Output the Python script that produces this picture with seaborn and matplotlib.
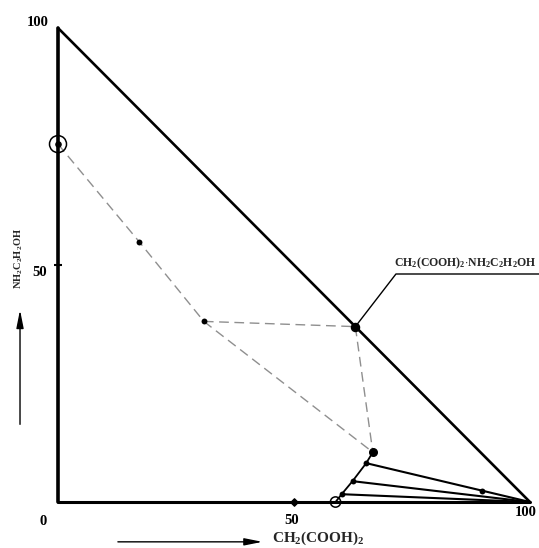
import numpy as np
import pandas as pd
import matplotlib
matplotlib.use("Agg")
import matplotlib.pyplot as plt
import seaborn as sns

# ---------------- data (mass %) ----------------
# triangle frame: pure NH2C2H2OH (0,100), origin, pure CH2(COOH)2 (100,0)
frame_x = [0, 0, 100, 0]
frame_y = [100, 0, 0, 100]

# branch 1 (dashed): from ethanolamine axis to invariant point
branch1_x = [0.0, 17.2, 30.9]
branch1_y = [75.5, 54.9, 38.1]

# compound CH2(COOH)2·NH2C2H2OH on the hypotenuse
compound_x = 63.0
compound_y = 37.0

# second invariant point (upper end of malonic-acid curve)
inv2_x = 66.7
inv2_y = 10.5

# malonic-acid solubility curve (solid)
acid_x = [66.7, 65.3, 62.4, 60.1, 58.8]
acid_y = [10.5, 8.2, 4.4, 1.65, 0.0]

# tie lines to pure CH2(COOH)2
tie_from_x = [65.3, 62.4, 60.1]
tie_from_y = [8.2, 4.4, 1.65]
tie_to = (100.0, 0.0)
# extra point on the upper tie line
tie_pt_x = 89.8

# ticks
tick_vals = [0, 50, 100]

# ---------------- figure ----------------
sns.set_theme(style="white")
plt.rcParams["font.family"] = ["Liberation Serif", "DejaVu Serif"]
plt.rcParams["mathtext.fontset"] = "custom"
plt.rcParams["mathtext.rm"] = "Liberation Serif"
plt.rcParams["mathtext.bf"] = "Liberation Serif:bold"
plt.rcParams["mathtext.it"] = "Liberation Serif:italic"

fig = plt.figure(figsize=(5.39, 5.48), dpi=100)
ax = fig.add_axes([0, 0, 1, 1])
ax.set_xlim(-12.29, 101.91)
ax.set_ylim(-9.70, 105.9)
ax.axis("off")

def seg(xs, ys, **kw):
    df = pd.DataFrame({"x": xs, "y": ys})
    sns.lineplot(data=df, x="x", y="y", sort=False, estimator=None, ax=ax, **kw)

# frame: left axis (thick), bottom axis, hypotenuse
seg([0, 0], [0, 100], color="black", lw=2.6)
seg([0, 100], [0, 0], color="black", lw=2.2)
seg([0, 100], [100, 0], color="black", lw=1.9)

# dashed branches
dash_kw = dict(color="#8f8f8f", lw=1.0, dashes=(7, 4))
seg(branch1_x, branch1_y, **dash_kw)
seg([branch1_x[-1], compound_x], [branch1_y[-1], compound_y], **dash_kw)
seg([branch1_x[-1], inv2_x], [branch1_y[-1], inv2_y], **dash_kw)
seg([compound_x, inv2_x], [compound_y, inv2_y], **dash_kw)

# malonic acid curve
seg(acid_x, acid_y, color="black", lw=1.3)

# tie lines
for tx, ty in zip(tie_from_x, tie_from_y):
    seg([tx, tie_to[0]], [ty, tie_to[1]], color="black", lw=1.5)

tie_pt_y = tie_from_y[0] * (tie_to[0] - tie_pt_x) / (tie_to[0] - tie_from_x[0])

# points
pts = pd.DataFrame({
    "x": branch1_x[1:] + [compound_x] + acid_x[:-1] + [tie_pt_x],
    "y": branch1_y[1:] + [compound_y] + acid_y[:-1] + [tie_pt_y],
})
sns.scatterplot(data=pts, x="x", y="y", color="black", s=18, edgecolor="black",
                linewidth=0, ax=ax, zorder=5)
ax.scatter([compound_x], [compound_y], s=34, color="black", zorder=6)
ax.scatter([inv2_x], [inv2_y], s=30, color="black", zorder=6)

# open circles
ax.scatter([branch1_x[0]], [branch1_y[0]], s=150, facecolor="none",
           edgecolor="black", linewidth=1.1, zorder=6)
ax.scatter([branch1_x[0]], [branch1_y[0]], s=14, color="black", zorder=6)
ax.scatter([acid_x[-1]], [acid_y[-1]], s=55, facecolor="none",
           edgecolor="black", linewidth=1.1, zorder=6)

# tick marks at 50
ax.scatter([50], [0], marker="D", s=14, color="black", zorder=6)
ax.scatter([0], [50], marker="_", s=40, color="black", linewidth=1.5, zorder=6)

# tick labels
lab_kw = dict(fontsize=10.5, fontweight="bold", color="black", ha="center", va="center")
ax.text(-4.4, 101.1, str(tick_vals[2]), **lab_kw)
ax.text(-4.0, 48.5, str(tick_vals[1]), **lab_kw)
ax.text(-3.2, -4.2, str(tick_vals[0]), **lab_kw)
ax.text(49.4, -3.8, str(tick_vals[1]), **lab_kw)
ax.text(99.2, -2.3, str(tick_vals[2]), **lab_kw)

# axis titles with arrows
ax.text(55.1, -7.7, r"$\mathbf{CH_2(COOH)_2}$", fontsize=11, ha="center", va="center")
ax.annotate("", xy=(43.9, -8.4), xytext=(12.1, -8.4),
            arrowprops=dict(arrowstyle="-|>,head_length=0.9,head_width=0.18",
                            color="black", lw=1.0))
ax.text(-8.3, 51.3, r"$\mathbf{NH_2C_2H_2OH}$", fontsize=7.5, rotation=90,
        ha="center", va="center")
ax.annotate("", xy=(-8.05, 41.1), xytext=(-8.05, 15.8),
            arrowprops=dict(arrowstyle="-|>,head_length=0.9,head_width=0.18",
                            color="black", lw=1.0))

# compound label with leader line
seg([compound_x, 71.6, 101.9], [compound_y, 48.1, 48.1], color="black", lw=1.0)
ax.text(86.2, 50.3, r"$\mathbf{CH_2(COOH)_2{\cdot}NH_2C_2H_2OH}$", fontsize=8.5,
        ha="center", va="center")

fig.savefig("out.png", dpi=100, facecolor="white")
